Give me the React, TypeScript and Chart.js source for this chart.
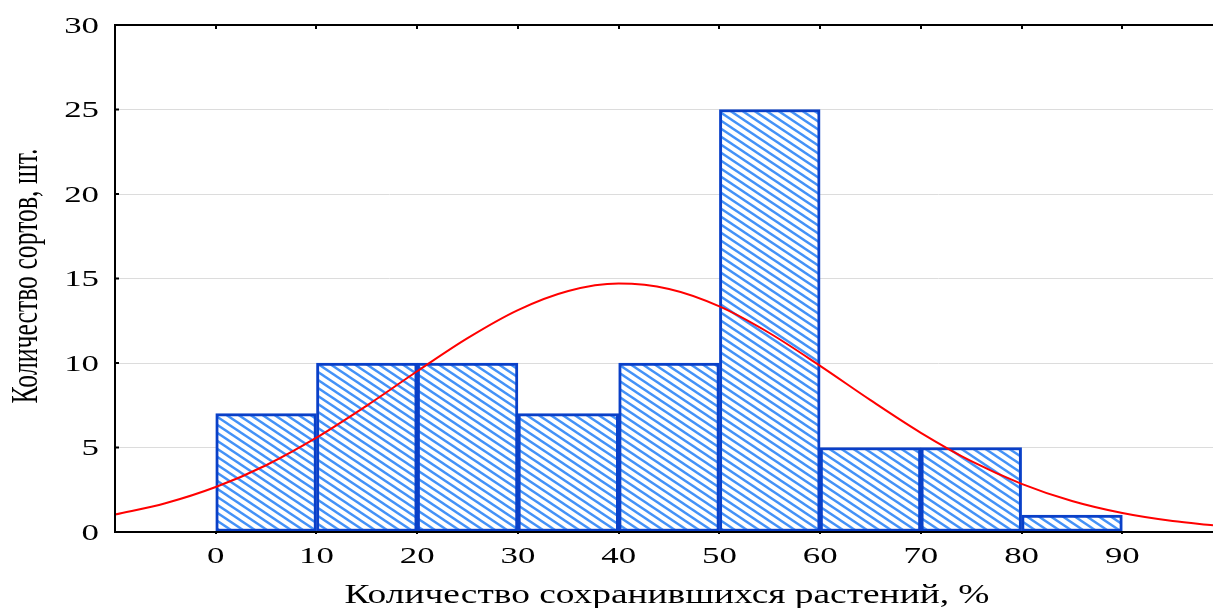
import React, { useEffect, useRef } from "react";
import { Chart, registerables } from "chart.js";

Chart.register(...registerables);

// Histogram bins (lower edges, %), bin width and counts
const binStarts = [0, 10, 20, 30, 40, 50, 60, 70, 80];
const binWidth = 10;
const counts = [7, 10, 10, 7, 10, 25, 5, 5, 1];

// Fitted normal curve
const curveX = [-10, -5, 0, 5, 10, 15, 20, 25, 30, 35, 40, 45, 50, 55, 60, 65, 70, 75, 80, 85, 90, 95, 99];
const curveY = [1.03, 1.7, 2.66, 3.95, 5.58, 7.48, 9.51, 11.47, 13.13, 14.26, 14.7, 14.38, 13.35, 11.76, 9.83, 7.8, 5.87, 4.19, 2.85, 1.83, 1.12, 0.65, 0.4];

// Axis ticks and titles
const xTickValues = [0, 10, 20, 30, 40, 50, 60, 70, 80, 90];
const yTickValues = [0, 5, 10, 15, 20, 25, 30];
const xMin = -10;
const xMax = 99;
const yMin = 0;
const yMax = 30;
const xTitle = "Количество сохранившихся растений, %";
const yTitle = "Количество сортов, шт.";

const SERIF = '"Liberation Serif", "Times New Roman", serif';

function makePattern(): CanvasPattern | string {
  const c = document.createElement("canvas");
  c.width = 12;
  c.height = 8;
  const g = c.getContext("2d");
  if (!g) return "#8fbfff";
  g.fillStyle = "#ffffff";
  g.fillRect(0, 0, 12, 8);
  g.strokeStyle = "#4492f7";
  g.lineWidth = 2.4;
  for (let k = -2; k <= 2; k++) {
    g.beginPath();
    g.moveTo(-12, -8 + k * 8);
    g.lineTo(24, 16 + k * 8);
    g.stroke();
  }
  const p = g.createPattern(c, "repeat");
  return p || "#8fbfff";
}

function drawScaledText(
  ctx: CanvasRenderingContext2D,
  text: string,
  x: number,
  y: number,
  sx: number,
  align: CanvasTextAlign
) {
  ctx.save();
  ctx.translate(x, y);
  ctx.scale(sx, 1);
  ctx.textAlign = align;
  ctx.textBaseline = "alphabetic";
  ctx.fillText(text, 0, 0);
  ctx.restore();
}

const decorPlugin = {
  id: "decor",
  afterDatasetsDraw(chart: any) {
    const { ctx, chartArea: a, scales } = chart;
    const xs = scales.x;
    const ys = scales.y;
    ctx.save();
    ctx.strokeStyle = "#000";
    ctx.lineWidth = 2;
    ctx.beginPath();
    ctx.moveTo(a.left - 1, a.top);
    ctx.lineTo(a.right, a.top);
    ctx.moveTo(a.left, a.top);
    ctx.lineTo(a.left, a.bottom + 1);
    ctx.moveTo(a.left - 1, a.bottom);
    ctx.lineTo(a.right, a.bottom);
    ctx.stroke();
    // y ticks (inward)
    ctx.beginPath();
    for (const v of yTickValues) {
      const py = ys.getPixelForValue(v);
      ctx.moveTo(a.left, py);
      ctx.lineTo(a.left + 4, py);
    }
    // x ticks: top (inward) and bottom (small)
    for (const v of xTickValues) {
      const px = Math.round(xs.getPixelForValue(v));
      ctx.moveTo(px, a.top);
      ctx.lineTo(px, a.top + 4);
      ctx.moveTo(px, a.bottom);
      ctx.lineTo(px, a.bottom + 2);
    }
    ctx.stroke();
    ctx.restore();
  },
  afterDraw(chart: any) {
    const { ctx, scales } = chart;
    const xs = scales.x;
    const ys = scales.y;
    ctx.save();
    ctx.fillStyle = "#000";
    ctx.font = `24px ${SERIF}`;
    for (const v of yTickValues) {
      const py = ys.getPixelForValue(v);
      drawScaledText(ctx, String(v), 99, py + 7.5, 1.45, "right");
    }
    for (const v of xTickValues) {
      const px = xs.getPixelForValue(v);
      drawScaledText(ctx, String(v), px, 563, 1.45, "center");
    }
    // x title
    ctx.font = `27px ${SERIF}`;
    const wx = ctx.measureText(xTitle).width;
    drawScaledText(ctx, xTitle, 667, 603, 645 / wx, "center");
    // y title (rotated)
    ctx.font = `38px ${SERIF}`;
    const wy = ctx.measureText(yTitle).width;
    ctx.save();
    ctx.translate(37, 276);
    ctx.rotate(-Math.PI / 2);
    ctx.scale(255 / wy, 1);
    ctx.textAlign = "center";
    ctx.textBaseline = "alphabetic";
    ctx.fillText(yTitle, 0, 0);
    ctx.restore();
    ctx.restore();
  },
};

export default function App() {
  const ref = useRef<HTMLCanvasElement | null>(null);

  useEffect(() => {
    if (!ref.current) return;
    const pattern = makePattern();
    const barData = binStarts.map((s, i) => ({ x: s + binWidth / 2, y: counts[i] }));
    const lineData = curveX.map((x, i) => ({ x, y: curveY[i] }));
    const chart = new Chart(ref.current, {
      type: "bar",
      data: {
        datasets: [
          {
            type: "line",
            data: lineData,
            borderColor: "#ff0000",
            borderWidth: 2,
            pointRadius: 0,
            cubicInterpolationMode: "monotone",
            fill: false,
            order: 0,
          } as any,
          {
            type: "bar",
            data: barData,
            backgroundColor: pattern as any,
            borderColor: "#0a40c8",
            borderWidth: 3,
            borderSkipped: false,
            barPercentage: 1,
            categoryPercentage: 1,
            order: 1,
          } as any,
        ],
      },
      options: {
        responsive: false,
        animation: false,
        layout: { padding: { top: 25, right: 0, left: 0, bottom: 0 } },
        plugins: {
          legend: { display: false },
          tooltip: { enabled: false },
          title: { display: false },
        },
        scales: {
          x: {
            type: "linear",
            min: xMin,
            max: xMax,
            offset: false,
            grid: { display: false },
            border: { display: false },
            ticks: { display: false },
            afterBuildTicks: (s: any) => {
              s.ticks = xTickValues.map((v) => ({ value: v }));
            },
            afterFit: (s: any) => {
              s.height = 76;
            },
          },
          y: {
            type: "linear",
            min: yMin,
            max: yMax,
            grid: { color: "#dcdcdc", lineWidth: 1, drawTicks: false },
            border: { display: false },
            ticks: { display: false },
            afterBuildTicks: (s: any) => {
              s.ticks = yTickValues.map((v) => ({ value: v }));
            },
            afterFit: (s: any) => {
              s.width = 115;
            },
          },
        },
      } as any,
      plugins: [decorPlugin],
    });
    return () => chart.destroy();
  }, []);

  return (
    <div style={{ position: "absolute", left: 0, top: 0, width: 1213, height: 608, background: "#fff" }}>
      <canvas ref={ref} width={1213} height={608} style={{ display: "block" }} />
    </div>
  );
}
